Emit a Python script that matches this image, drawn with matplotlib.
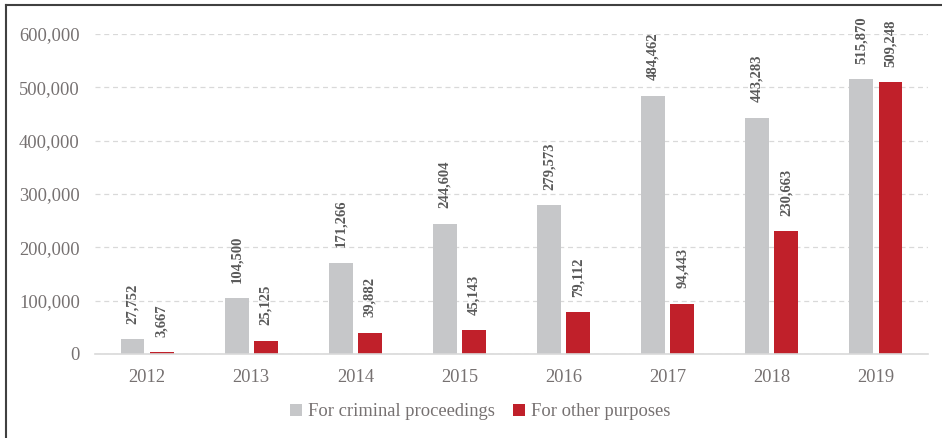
import matplotlib
matplotlib.use('Agg')
import matplotlib.pyplot as plt
from matplotlib.lines import Line2D
import numpy as np

years = ['2012', '2013', '2014', '2015', '2016', '2017', '2018', '2019']
criminal = [27752, 104500, 171266, 244604, 279573, 484462, 443283, 515870]
other = [3667, 25125, 39882, 45143, 79112, 94443, 230663, 509248]

grey = '#c6c7c9'
red = '#c0202a'
txt = '#767171'

plt.rcParams['font.family'] = ['Liberation Serif', 'DejaVu Serif']

fig = plt.figure(figsize=(9.42, 4.38), dpi=100)
ax = fig.add_axes([95 / 942, 84 / 438, 833 / 942, 320 / 438])

x = np.arange(len(years))
w = 0.23
off = 0.14
b1 = ax.bar(x - off, criminal, w, color=grey, label='For criminal proceedings')
b2 = ax.bar(x + off, other, w, color=red, label='For other purposes')

for bars, vals in [(b1, criminal), (b2, other)]:
    for b, v in zip(bars, vals):
        ax.annotate(f'{v:,}', (b.get_x() + b.get_width() / 2, v),
                    xytext=(0, 11), textcoords='offset points',
                    rotation=90, ha='center', va='bottom',
                    fontsize=10.5, fontweight='bold', color='#595959')

ax.set_xlim(-0.5, 7.5)
ax.set_ylim(0, 600000)
ax.set_yticks(np.arange(0, 600001, 100000))
ax.set_yticklabels([f'{int(t):,}' for t in np.arange(0, 600001, 100000)])
ax.set_xticks(x)
ax.set_xticklabels(years)
ax.tick_params(axis='both', length=0, labelsize=13.3, colors=txt)
ax.tick_params(axis='x', pad=11)
ax.tick_params(axis='y', pad=11)
ax.yaxis.grid(True, linestyle=(0, (4, 3)), color='#d9d9d9', linewidth=0.9)
ax.set_axisbelow(True)
for s in ['top', 'right', 'left']:
    ax.spines[s].set_visible(False)
ax.spines['bottom'].set_color('#d9d9d9')
ax.spines['bottom'].set_linewidth(1.2)

fig.legend(handles=[b1, b2], loc='center', bbox_to_anchor=(480 / 942, 1 - 412 / 438),
           ncol=2, frameon=False, fontsize=13.3, labelcolor=txt,
           handlelength=0.68, handleheight=0.68, handletextpad=0.32,
           columnspacing=0.95)

# frame lines on top and left of the figure
fig.add_artist(Line2D([5.5 / 942, 5.5 / 942], [0, 1 - 4.5 / 438], color='#404040', lw=1.5))
fig.add_artist(Line2D([5.5 / 942, 1], [1 - 4.5 / 438, 1 - 4.5 / 438], color='#404040', lw=1.5))

fig.savefig('out.png', dpi=100)
